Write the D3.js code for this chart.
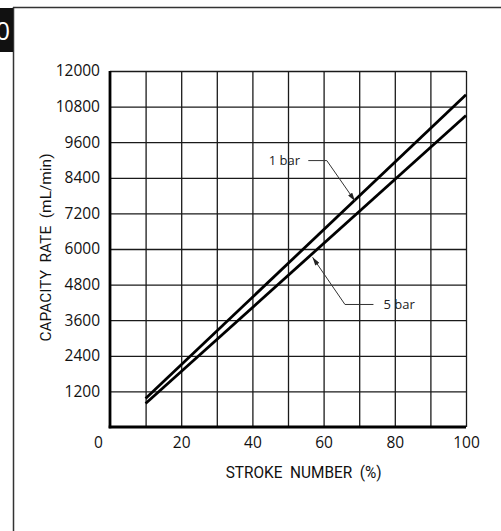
<!DOCTYPE html>
<html>
<head>
<meta charset="utf-8">
<script src="https://cdn.jsdelivr.net/npm/d3@7"></script>
<style>
  body { margin: 0; background: #fff; }
  svg { display: block; }
</style>
</head>
<body>
<svg id="canvas" width="501" height="531"></svg>
<script>
// values
let strokePct = [10, 100];
let rate1bar = [960, 11200];
let rate5bar = [790, 10500];

let xLabelTicks = [0, 20, 40, 60, 80, 100];
let xGridTicks = [10, 20, 30, 40, 50, 60, 70, 80, 90, 100];
let yTicks = [1200, 2400, 3600, 4800, 6000, 7200, 8400, 9600, 10800, 12000];

// callouts: label, text anchor point, elbow, arrow tip (all in data units)
let callouts = [
    { label: '1 bar', text: [44.6, 8980], elbow: [[55.7, 8980], [60.9, 8980]], tip: [68.8, 7620] },
    { label: '5 bar', text: [76.8, 4130], elbow: [[74.0, 4130], [66.0, 4130]], tip: [56.9, 5720] }
];

let canvas = d3.select('#canvas');

let x = d3.scaleLinear().domain([0, 100]).range([110, 466]);
let y = d3.scaleLinear().domain([0, 12000]).range([427, 71]);

// outer frame + black tab in the corner
canvas.append('line')
    .attr('x1', 13).attr('x2', 501).attr('y1', 7.5).attr('y2', 7.5)
    .attr('stroke', '#333').attr('stroke-width', 1.5);
canvas.append('line')
    .attr('x1', 13.5).attr('x2', 13.5).attr('y1', 7).attr('y2', 531)
    .attr('stroke', '#333').attr('stroke-width', 1.5);
canvas.append('clipPath').attr('id', 'tabclip')
    .append('rect').attr('x', 0).attr('y', 8).attr('width', 13).attr('height', 44);
canvas.append('rect')
    .attr('x', 0).attr('y', 8).attr('width', 13).attr('height', 44)
    .attr('fill', '#111');
canvas.append('text')
    .attr('clip-path', 'url(#tabclip)')
    .attr('x', 10).attr('y', 40)
    .attr('text-anchor', 'end')
    .attr('font-family', 'Open Sans')
    .attr('font-size', 25)
    .attr('fill', '#fff')
    .text('0');

// grid
let gridX = canvas.append('g')
    .attr('transform', 'translate(0,' + y(0) + ')')
    .call(d3.axisBottom(x).tickValues(xGridTicks).tickSize(-(y(0) - y(12000))).tickFormat(''));
let gridY = canvas.append('g')
    .attr('transform', 'translate(' + x(0) + ',0)')
    .call(d3.axisLeft(y).tickValues(yTicks).tickSize(-(x(100) - x(0))).tickFormat(''));
[gridX, gridY].forEach(g => {
    g.select('.domain').remove();
    g.selectAll('.tick line').attr('stroke', '#1a1a1a').attr('stroke-width', 1.3);
});

// heavy axis lines
canvas.append('line')
    .attr('x1', x(0)).attr('x2', x(0)).attr('y1', y(12000)).attr('y2', y(0) + 1.3)
    .attr('stroke', '#000').attr('stroke-width', 2.8);
canvas.append('line')
    .attr('x1', x(0) - 1.3).attr('x2', x(100)).attr('y1', y(0)).attr('y2', y(0))
    .attr('stroke', '#000').attr('stroke-width', 2.8);

// tick labels
let yAxis = canvas.append('g')
    .attr('transform', 'translate(' + x(0) + ',0)')
    .call(d3.axisLeft(y).tickValues(yTicks).tickSize(0).tickPadding(10).tickFormat(d3.format('d')));
let xAxis = canvas.append('g')
    .attr('transform', 'translate(0,' + y(0) + ')')
    .call(d3.axisBottom(x).tickValues(xLabelTicks).tickSize(0).tickPadding(10).tickFormat(d3.format('d')));
[xAxis, yAxis].forEach(g => {
    g.select('.domain').remove();
    g.selectAll('text')
        .attr('font-family', 'Open Sans')
        .attr('font-size', 15.5)
        .attr('fill', '#111');
});
// origin label sits left of the axis
xAxis.selectAll('.tick').filter(d => d === 0).select('text').attr('x', -12);

// axis titles
canvas.append('text')
    .attr('x', 303.7).attr('y', 478)
    .attr('text-anchor', 'middle')
    .attr('font-family', 'Roboto')
    .attr('font-size', 16.5)
    .attr('fill', '#111')
    .style('white-space', 'pre')
    .attr('textLength', 156)
    .attr('lengthAdjust', 'spacingAndGlyphs')
    .text('STROKE  NUMBER  (%)');
canvas.append('text')
    .attr('transform', 'translate(50.5,247.5) rotate(-90)')
    .attr('text-anchor', 'middle')
    .attr('font-family', 'Roboto')
    .attr('font-size', 15)
    .attr('fill', '#111')
    .style('white-space', 'pre')
    .attr('textLength', 188)
    .attr('lengthAdjust', 'spacingAndGlyphs')
    .text('CAPACITY  RATE  (mL/min)');

// the two lines
let line = d3.line().x(d => x(d[0])).y(d => y(d[1]));
[rate1bar, rate5bar].forEach(series => {
    canvas.append('path')
        .datum(strokePct.map((s, i) => [s, series[i]]))
        .attr('d', line)
        .attr('fill', 'none')
        .attr('stroke', '#000')
        .attr('stroke-width', 2.8);
});

// callouts
canvas.append('defs').append('marker')
    .attr('id', 'arrow')
    .attr('viewBox', '0 0 10 6')
    .attr('refX', 10).attr('refY', 3)
    .attr('markerWidth', 9).attr('markerHeight', 5)
    .attr('markerUnits', 'userSpaceOnUse')
    .attr('orient', 'auto')
    .append('path')
    .attr('d', 'M0,0 L10,3 L0,6 Z')
    .attr('fill', '#222');

callouts.forEach(c => {
    let pts = c.elbow.concat([c.tip]);
    canvas.append('path')
        .attr('d', line(pts))
        .attr('fill', 'none')
        .attr('stroke', '#333')
        .attr('stroke-width', 1)
        .attr('marker-end', 'url(#arrow)');
    canvas.append('text')
        .attr('x', x(c.text[0])).attr('y', y(c.text[1]))
        .attr('dy', '0.35em')
        .attr('font-family', 'Open Sans')
        .attr('font-size', 13)
        .attr('fill', '#222')
        .text(c.label);
});
</script>
</body>
</html>
